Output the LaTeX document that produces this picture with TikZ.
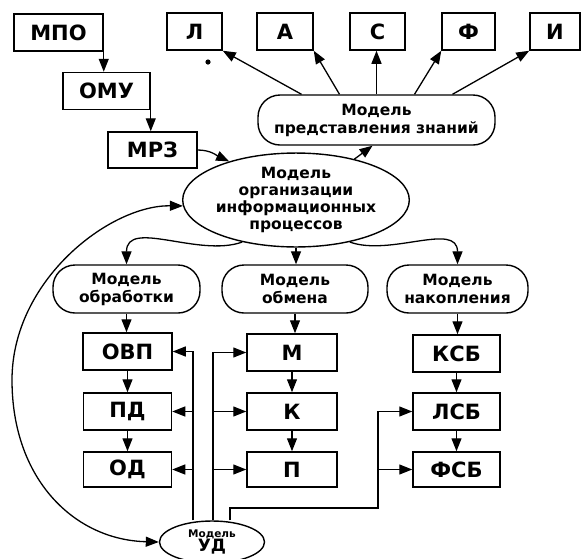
\documentclass[tikz,border=0pt]{standalone}
\usepackage{fontspec}
\setmainfont{DejaVu Sans}
\usetikzlibrary{arrows.meta,shapes.geometric}
\tikzset{
  blk/.style={draw, line width=1.5pt, inner sep=0pt, minimum height=37pt, font=\fontsize{21}{24}\selectfont\bfseries},
  mdl/.style={draw, rounded corners=22pt, line width=1.4pt, inner sep=0pt, minimum height=48pt, align=center, font=\fontsize{15.5}{18}\selectfont\bfseries},
  oval/.style={draw, ellipse, line width=1.4pt, inner sep=0pt, align=center},
  arr/.style={-{Triangle[length=13pt,width=10pt]}, line width=1.3pt},
  arrs/.style={{Triangle[length=13pt,width=10pt]}-{Triangle[length=13pt,width=10pt]}, line width=1.3pt},
}
\begin{document}
\begin{tikzpicture}[x=1pt,y=-1pt]
  \useasboundingbox (0,0) rectangle (584,558);
  % left chain
  \node[blk, minimum width=89pt] (mpo) at (58.5,32.5) {МПО};
  \node[blk, minimum width=87pt] (omu) at (106.5,91) {ОМУ};
  \node[blk, minimum width=89pt, minimum height=36pt] (mrz) at (152.5,150) {МРЗ};
  % top row
  \node[blk, minimum width=55pt] (l) at (194.5,31.5) {Л};
  \node[blk, minimum width=56pt] (a) at (285,31.5) {А};
  \node[blk, minimum width=55pt] (s) at (377.5,31.5) {С};
  \node[blk, minimum width=53pt] (f) at (468.5,31.5) {Ф};
  \node[blk, minimum width=50pt] (i) at (555,31.5) {И};
  \fill (208,62) circle (2.6pt);
  \node[mdl, minimum width=237pt, minimum height=50pt] (mpz) at (376.5,120) {Модель\\представления знаний};
  % centre
  \node[oval, minimum width=204pt, minimum height=80pt, font=\fontsize{15.5}{17.3}\selectfont\bfseries] (moip) at (296,200)
    {Модель\\организации\\информационных\\процессов};
  \node[mdl, minimum width=147pt] (mobr) at (126.5,289) {Модель\\обработки};
  \node[mdl, minimum width=146pt] (mobm) at (295,289) {Модель\\обмена};
  \node[mdl, minimum width=141pt] (mnak) at (457.5,289) {Модель\\накопления};
  % columns
  \node[blk, minimum width=89pt] (ovp) at (127.5,351.5) {ОВП};
  \node[blk, minimum width=88pt] (pd) at (127.5,411.5) {ПД};
  \node[blk, minimum width=88pt, minimum height=35pt] (od) at (127.5,469.5) {ОД};
  \node[blk, minimum width=90pt] (m) at (292,352.5) {М};
  \node[blk, minimum width=90pt] (k) at (292,411.5) {К};
  \node[blk, minimum width=90pt, minimum height=35pt] (p) at (292,469.5) {П};
  \node[blk, minimum width=87pt] (ksb) at (456.5,353.5) {КСБ};
  \node[blk, minimum width=87pt] (lsb) at (456.5,411.5) {ЛСБ};
  \node[blk, minimum width=87pt, minimum height=35pt] (fsb) at (456.5,469.5) {ФСБ};
  \node[oval, minimum width=105pt, minimum height=42pt] (mud) at (212,542)
    {{\fontsize{10.5}{10}\selectfont\bfseries Модель}\\[-1pt]{\fontsize{17}{16}\selectfont\bfseries УД}};
  \coordinate (busl) at (193,0);
  \coordinate (busm) at (213,0);
  \coordinate (busr) at (230,0);
  \coordinate (kink) at (378,508);
  % connectors
  \draw[arr] (mpo.south east) -- (mpo.south east |- omu.north);
  \draw[arr] (omu.south east) -- (omu.south east |- mrz.north);
  \draw[arr] (mrz.east) to[out=0,in=155] (moip.150);
  \draw[arr] (moip.35) -- ([xshift=-4pt]mpz.south);
  \draw[arr] ([xshift=-75pt]mpz.north) -- (l.south east);
  \draw[arr] ([xshift=-37pt]mpz.north) -- (a.south east);
  \draw[arr] (mpz.north) -- (mpz.north |- s.south);
  \draw[arr] ([xshift=38pt]mpz.north) -- (f.south west);
  \draw[arr] ([xshift=76pt]mpz.north) -- (i.south west);
  \draw[arr] (moip.218) to[out=200,in=90] (mobr.north);
  \draw[arr] (moip.south) -- (moip.south |- mobm.north);
  \draw[arr] (moip.-38) to[out=-20,in=90] (mnak.north);
  \draw[arr] (mobr.south) -- (mobr.south |- ovp.north);
  \draw[arr] (ovp.south) -- (pd.north);
  \draw[arr] (pd.south) -- (od.north);
  \draw[arr] (mobm.south) -- (mobm.south |- m.north);
  \draw[arr] (m.south) -- (k.north);
  \draw[arr] (k.south) -- (p.north);
  \draw[arr] (mnak.south) -- (mnak.south |- ksb.north);
  \draw[arr] (ksb.south) -- (lsb.north);
  \draw[arr] (lsb.south) -- (fsb.north);
  % control lines
  \draw[arr] (mud.north -| busl) |- (ovp.east);
  \draw[arr] (busl |- pd.east) -- (pd.east);
  \draw[arr] (busl |- od.east) -- (od.east);
  \draw[arr] (mud.north -| busm) |- (m.west);
  \draw[arr] (busm |- k.west) -- (k.west);
  \draw[arr] (busm |- p.west) -- (p.west);
  \draw[arr] (mud.north -| busr) |- (kink) |- (lsb.west);
  \draw[arr] (kink |- fsb.west) -- (fsb.west);
  \draw[arrs] (moip.183) .. controls (110,205) and (12,280) .. (12,380)
    .. controls (12,480) and (75,540) .. (mud.west);
\end{tikzpicture}
\end{document}
